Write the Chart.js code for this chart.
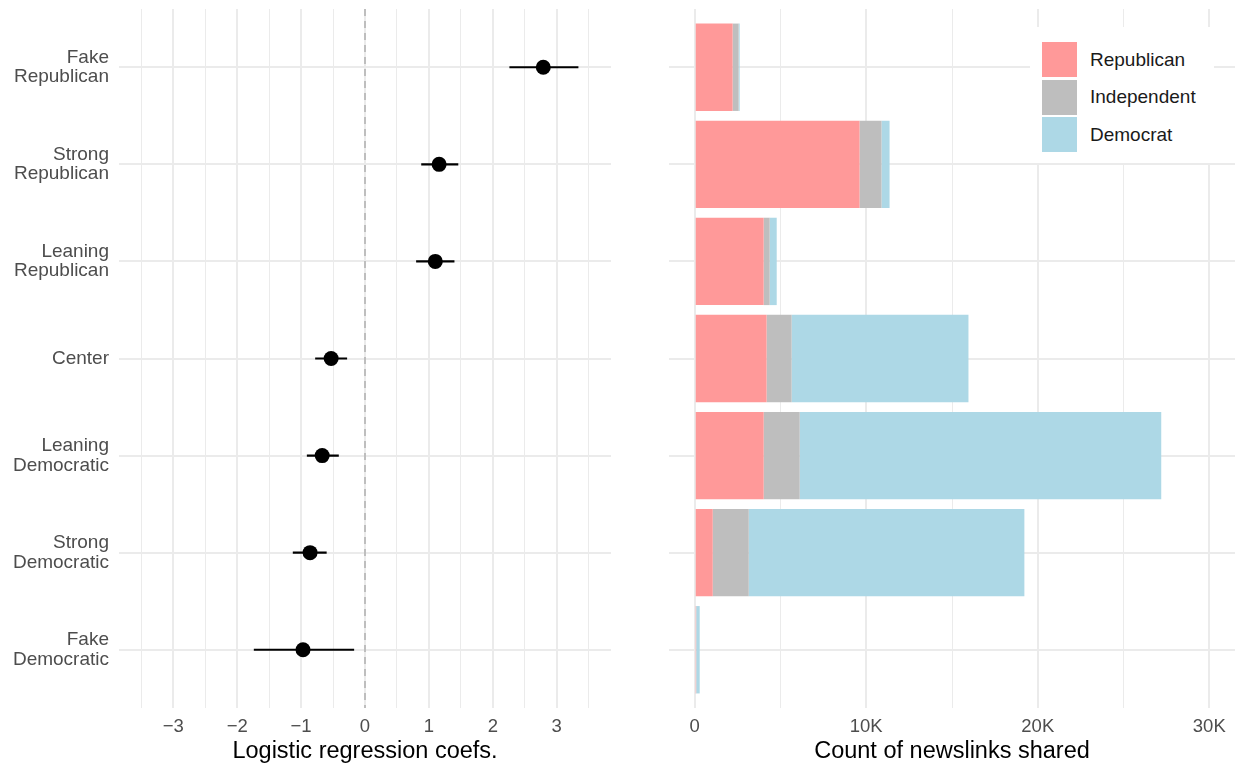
<!DOCTYPE html>
<html>
<head>
<meta charset="utf-8">
<script src="https://cdn.jsdelivr.net/npm/chart.js@4.4.1/dist/chart.umd.min.js"></script>
<style>
    body { margin: 0; background: #fff; width: 1236px; height: 767px; overflow: hidden; position: relative; font-family: "Liberation Sans", Arial, sans-serif; }
    #grafico-coefs { position: absolute; left: 0; top: 0; }
    #grafico-conteo { position: absolute; left: 640px; top: 0; }
    #leyenda { position: absolute; left: 1030px; top: 27px; width: 184px; height: 136px; background: #fff; }
    #leyenda .item { position: absolute; left: 12px; height: 35px; display: flex; align-items: center; }
    #leyenda .caja { width: 35px; height: 35px; margin-right: 13px; }
    #leyenda .texto { font-size: 19px; color: #1a1a1a; }
</style>
</head>
<body>
<canvas id="grafico-coefs" width="640" height="767"></canvas>
<canvas id="grafico-conteo" width="596" height="767"></canvas>
<div id="leyenda"></div>
<script>
// categorias de arriba hacia abajo
const categorias = ["Fake Republican", "Strong Republican", "Leaning Republican", "Center", "Leaning Democratic", "Strong Democratic", "Fake Democratic"];

// coeficientes de la regresion logistica con su intervalo
const coef = [2.79, 1.16, 1.10, -0.53, -0.67, -0.86, -0.97];
const coefInf = [2.26, 0.88, 0.80, -0.78, -0.91, -1.13, -1.74];
const coefSup = [3.34, 1.46, 1.40, -0.28, -0.41, -0.60, -0.17];

// conteo de enlaces compartidos por grupo de usuarios
const series = ["Republican", "Independent", "Democrat"];
const republicanos = [2210, 9610, 4020, 4190, 4020, 1050, 80];
const independientes = [350, 1280, 350, 1460, 2100, 2100, 10];
const democratas = [60, 470, 410, 10310, 21080, 16070, 200];
const colores = ["#FF9999", "#BEBEBE", "#ADD8E6"];

const ticksCoef = [-3.5, -3, -2.5, -2, -1.5, -1, -0.5, 0, 0.5, 1, 1.5, 2, 2.5, 3, 3.5];
const ticksConteo = [0, 5000, 10000, 15000, 20000, 25000, 30000];

const fuente = "'Liberation Sans', Arial, sans-serif";
const gris = "#EBEBEB";
const textoEje = "#4D4D4D";

function etiquetaCat(v) {
    const c = categorias[v];
    if (c === undefined) return "";
    const i = c.indexOf(" ");
    return i < 0 ? c : [c.slice(0, i), c.slice(i + 1)];
}

function ejeY(conEtiquetas, ancho) {
    return {
        type: "linear", min: -0.6, max: 6.6, reverse: true, offset: false,
        afterBuildTicks: (eje) => { eje.ticks = categorias.map((_, i) => ({ value: i })); },
        afterFit: (eje) => { eje.width = ancho; eje.paddingTop = 0; eje.paddingBottom = 0; },
        border: { display: false },
        grid: { color: gris, lineWidth: 2, drawTicks: false, offset: false },
        ticks: {
            display: conEtiquetas, padding: 10, color: textoEje,
            font: { family: fuente, size: 19, lineHeight: 1.02 },
            callback: (v) => etiquetaCat(v),
        },
    };
}

function ejeX(valores, mayor, etiqueta, titulo) {
    return {
        type: "linear",
        afterBuildTicks: (eje) => { eje.ticks = valores.map((v) => ({ value: v })); },
        afterFit: (eje) => { eje.height = 59; },
        border: { display: false },
        grid: {
            color: gris, drawTicks: false,
            lineWidth: (ctx) => (Math.abs(ctx.tick.value / mayor - Math.round(ctx.tick.value / mayor)) < 1e-9 ? 2 : 1),
        },
        ticks: {
            padding: 8, color: textoEje, autoSkip: false, maxRotation: 0,
            font: { family: fuente, size: 18.5 },
            callback: (v) => (Math.abs(v / mayor - Math.round(v / mayor)) < 1e-9 ? etiqueta(v) : ""),
        },
        title: { display: true, text: titulo, color: "#000", font: { family: fuente, size: 23.5 }, padding: { top: 0, bottom: 1 } },
    };
}

// panel izquierdo: coeficientes
const puntos = coef.map((v, i) => ({ x: v, y: i }));
const barrasError = categorias.map((_, i) => ({
    data: [{ x: coefInf[i], y: i }, { x: coefSup[i], y: i }],
    showLine: true, borderColor: "#000", borderWidth: 2.2, pointRadius: 0, order: 1,
}));

const xCoef = ejeX(ticksCoef, 1, (v) => (v < 0 ? "\u2212" + Math.abs(v) : String(v)), "Logistic regression coefs.");
xCoef.min = -3.85;
xCoef.max = 3.85;

new Chart(document.getElementById("grafico-coefs"), {
    type: "scatter",
    data: {
        datasets: [
            { data: puntos, backgroundColor: "#000", borderWidth: 0, pointRadius: 7.5, order: 0 },
            ...barrasError,
            {
                data: [{ x: 0, y: -0.6 }, { x: 0, y: 6.6 }], showLine: true, borderColor: "#B3B3B3",
                borderWidth: 1.6, borderDash: [7, 5], pointRadius: 0, order: 2,
            },
        ],
    },
    options: {
        responsive: false, animation: false, events: [],
        layout: { padding: { top: 9, right: 29, left: 0, bottom: 0 } },
        plugins: { legend: { display: false }, tooltip: { enabled: false } },
        scales: { x: xCoef, y: ejeY(true, 119) },
    },
});

// panel derecho: barras apiladas
const xConteo = ejeX(ticksConteo, 10000, (v) => (v === 0 ? "0" : v / 1000 + "K"), "Count of newslinks shared");
xConteo.min = -1500;
xConteo.max = 31500;
xConteo.stacked = true;
const yConteo = ejeY(false, 29);
yConteo.stacked = true;

const valoresSerie = [republicanos, independientes, democratas];

new Chart(document.getElementById("grafico-conteo"), {
    type: "bar",
    data: {
        datasets: series.map((s, k) => ({
            label: s,
            data: valoresSerie[k].map((v, i) => ({ x: v, y: i })),
            backgroundColor: colores[k], borderWidth: 0,
            categoryPercentage: 1, barPercentage: 0.9,
        })),
    },
    options: {
        indexAxis: "y", responsive: false, animation: false, events: [],
        layout: { padding: { top: 9, right: 1, left: 0, bottom: 0 } },
        plugins: { legend: { display: false }, tooltip: { enabled: false } },
        scales: { x: xConteo, y: yConteo },
    },
});

// leyenda dentro del panel
const leyenda = document.getElementById("leyenda");
leyenda.innerHTML = series.map((s, k) => `
    <div class="item" style="top:${15 + k * 37.5}px">
      <span class="caja" style="background:${colores[k]}"></span><span class="texto">${s}</span>
    </div>`).join("");
</script>
</body>
</html>
